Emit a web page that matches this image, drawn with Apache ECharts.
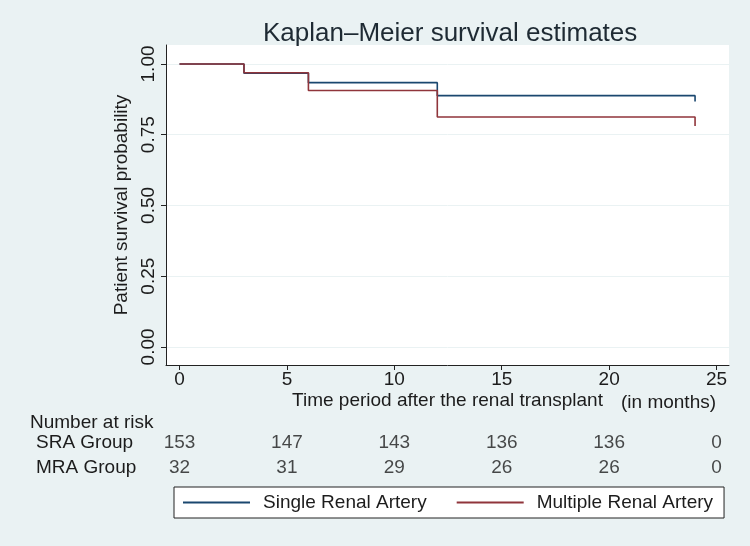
<!DOCTYPE html>
<html>
<head>
<meta charset="utf-8">
<script src="https://cdn.jsdelivr.net/npm/echarts@6/dist/echarts.min.js"></script>
<style>
  html, body { margin: 0; padding: 0; background: #eaf2f3; }
  #km { width: 750px; height: 546px; }
</style>
</head>
<body>
<div id="km"></div>
<script>
// survival data
var times = [0, 3, 6, 12, 24];
var sraSurv = [1, 0.967, 0.934, 0.888, 0.867];
var mraSurv = [1, 0.969, 0.906, 0.8125, 0.781];

// number at risk table
var riskTimes = [0, 5, 10, 15, 20, 25];
var sraRisk = [153, 147, 143, 136, 136, 0];
var mraRisk = [32, 31, 29, 26, 26, 0];
var groups = ['SRA Group', 'MRA Group'];

var xTicks = [0, 5, 10, 15, 20, 25];
var yTicks = [0, 0.25, 0.5, 0.75, 1];

var FONT = '"Liberation Sans", Arial, sans-serif';
var TXT = '#1c1c1c';
var navy = '#1a476f';
var maroon = '#90353b';

function pairs(xs, ys) {
  return xs.map(function (x, i) { return [x, ys[i]]; });
}

var myChart = echarts.init(document.getElementById('km'));
var option = {
  backgroundColor: '#eaf2f3',
  animation: false,
  textStyle: { fontFamily: FONT },
  title: {
    text: 'Kaplan\u2013Meier survival estimates',
    left: 258,
    top: 16,
    textStyle: { fontFamily: FONT, fontSize: 26, fontWeight: 'normal', color: '#1e2a33' }
  },
  legend: {
    left: 174,
    top: 487,
    backgroundColor: '#fff',
    borderColor: '#222',
    borderWidth: 1,
    borderRadius: 0,
    padding: [6, 11, 6, 9],
    itemWidth: 67,
    itemHeight: 2,
    itemGap: 30,
    icon: 'rect',
    textStyle: { fontFamily: FONT, fontSize: 19, color: TXT, padding: [0, 0, 0, 8] },
    data: ['Single Renal Artery', 'Multiple Renal Artery']
  },
  grid: [
    { left: 166, right: 21, top: 45, height: 320, show: true, backgroundColor: '#fff', borderWidth: 0 },
    { left: 166, right: 21, top: 430, height: 50 }
  ],
  xAxis: [{
    gridIndex: 0,
    type: 'value',
    min: -0.63,
    max: 25.58,
    name: 'Time period after the renal transplant',
    nameLocation: 'middle',
    nameGap: 26,
    nameMoveOverlap: false,
    nameTextStyle: { fontFamily: FONT, fontSize: 19, color: TXT },
    axisLine: { onZero: false, lineStyle: { color: '#222', width: 1 } },
    axisTick: { show: true, length: 5, customValues: xTicks, lineStyle: { color: '#222' } },
    axisLabel: { customValues: xTicks, fontFamily: FONT, fontSize: 19, color: TXT, margin: 5 },
    splitLine: { show: false }
  }, {
    gridIndex: 1,
    type: 'value',
    min: -0.63,
    max: 25.58,
    show: false
  }],
  yAxis: [{
    gridIndex: 0,
    type: 'value',
    min: -0.064,
    max: 1.067,
    name: 'Patient survival probability',
    nameLocation: 'middle',
    nameGap: 32,
    nameRotate: 90,
    nameTextStyle: { fontFamily: FONT, fontSize: 19, color: TXT },
    axisLine: { show: true, onZero: false, lineStyle: { color: '#222', width: 1 } },
    axisTick: { show: true, length: 5, customValues: yTicks, lineStyle: { color: '#222' } },
    axisLabel: {
      customValues: yTicks, rotate: 90, fontFamily: FONT, fontSize: 19, color: TXT, margin: 8,
      formatter: function (v) { return v.toFixed(2); }
    },
    splitLine: { show: true, lineStyle: { color: '#eaf2f3', width: 1 } }
  }, {
    gridIndex: 1,
    type: 'category',
    inverse: true,
    data: groups,
    axisLine: { show: false },
    axisTick: { show: false },
    axisLabel: { fontFamily: FONT, fontSize: 19, color: TXT, align: 'left', margin: 130 }
  }],
  graphic: [{
    type: 'text',
    left: 30,
    top: 413,
    style: { text: 'Number at risk', font: '19px ' + FONT, fill: TXT }
  }, {
    type: 'text',
    left: 621,
    top: 393,
    style: { text: '(in months)', font: '19px ' + FONT, fill: TXT }
  }],
  series: [{
    name: 'Single Renal Artery',
    type: 'line',
    step: 'end',
    xAxisIndex: 0, yAxisIndex: 0,
    showSymbol: false,
    lineStyle: { color: navy, width: 1.6 },
    itemStyle: { color: navy },
    data: pairs(times, sraSurv)
  }, {
    name: 'Multiple Renal Artery',
    type: 'line',
    step: 'end',
    xAxisIndex: 0, yAxisIndex: 0,
    showSymbol: false,
    lineStyle: { color: maroon, width: 1.6 },
    itemStyle: { color: maroon },
    data: pairs(times, mraSurv)
  }, {
    name: 'risk SRA',
    type: 'scatter',
    xAxisIndex: 1, yAxisIndex: 1,
    symbolSize: 0,
    label: { show: true, position: 'inside', formatter: function (p) { return p.value[2]; }, fontFamily: FONT, fontSize: 19, color: TXT },
    data: riskTimes.map(function (t, i) { return [t, groups[0], sraRisk[i]]; })
  }, {
    name: 'risk MRA',
    type: 'scatter',
    xAxisIndex: 1, yAxisIndex: 1,
    symbolSize: 0,
    label: { show: true, position: 'inside', formatter: function (p) { return p.value[2]; }, fontFamily: FONT, fontSize: 19, color: TXT },
    data: riskTimes.map(function (t, i) { return [t, groups[1], mraRisk[i]]; })
  }]
};
myChart.setOption(option);
</script>
</body>
</html>
